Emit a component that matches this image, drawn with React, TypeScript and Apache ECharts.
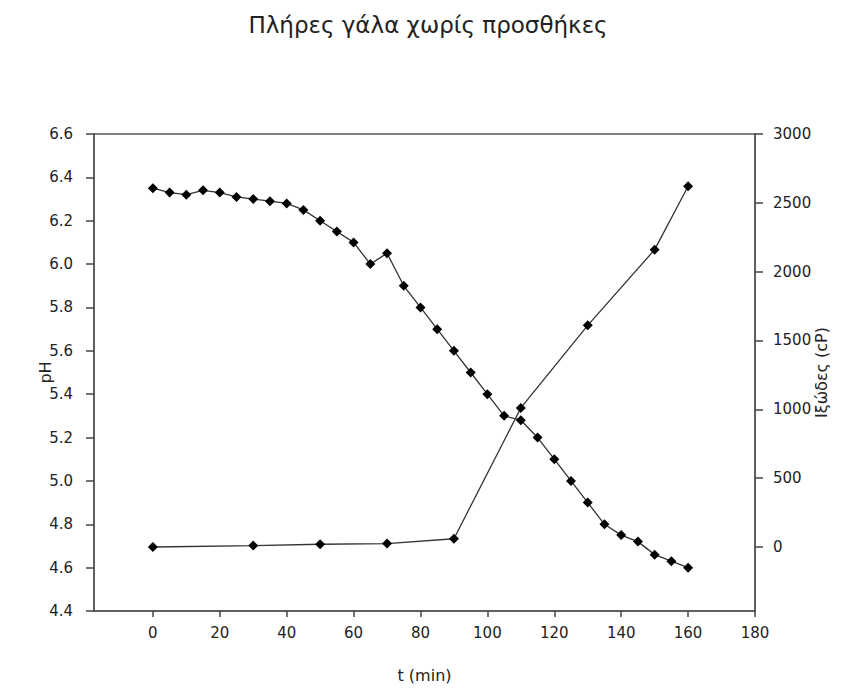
import React, { useEffect, useRef } from "react";
import * as echarts from "echarts";

const phTimes = [0, 5, 10, 15, 20, 25, 30, 35, 40, 45, 50, 55, 60, 65, 70, 75, 80, 85, 90, 95, 100, 105, 110, 115, 120, 125, 130, 135, 140, 145, 150, 155, 160];
const phValues = [6.35, 6.33, 6.32, 6.34, 6.33, 6.31, 6.30, 6.29, 6.28, 6.25, 6.20, 6.15, 6.10, 6.00, 6.05, 5.90, 5.80, 5.70, 5.60, 5.50, 5.40, 5.30, 5.28, 5.20, 5.10, 5.00, 4.90, 4.80, 4.75, 4.72, 4.66, 4.63, 4.60];
const viscTimes = [0, 30, 50, 70, 90, 110, 130, 150, 160];
const viscValues = [0, 10, 20, 25, 60, 1010, 1610, 2160, 2620];
const xTicks = [0, 20, 40, 60, 80, 100, 120, 140, 160, 180];
const phTicks = [4.4, 4.6, 4.8, 5.0, 5.2, 5.4, 5.6, 5.8, 6.0, 6.2, 6.4, 6.6];
const viscTicks = [0, 500, 1000, 1500, 2000, 2500, 3000];

export default function App() {
  const ref = useRef<HTMLDivElement>(null);
  useEffect(() => {
    if (!ref.current) return;
    const chart = echarts.init(ref.current, undefined, { renderer: "svg" });
    const font = "DejaVu Sans, Liberation Sans, Arial, sans-serif";
    const axisLine = { show: true, onZero: false, lineStyle: { color: "#555", width: 1.5 } };
    chart.setOption({
      animation: false,
      backgroundColor: "#fff",
      title: {
        text: "Πλήρες γάλα χωρίς προσθήκες",
        left: "center",
        top: 8,
        textStyle: { fontFamily: font, fontSize: 23, fontWeight: "normal", color: "#222" },
      },
      grid: {
        left: 94,
        right: 101,
        top: 134,
        bottom: 79,
        show: true,
        borderColor: "#555",
        borderWidth: 1.5,
        containLabel: false,
        outerBoundsMode: "none",
      },
      xAxis: {
        type: "value",
        min: -17.6,
        max: 180,
        name: "t (min)",
        nameLocation: "middle",
        nameGap: 56,
        nameMoveOverlap: false,
        nameTextStyle: { fontFamily: font, fontSize: 16, color: "#222" },
        axisLine,
        axisTick: { show: true, length: 6, customValues: xTicks, lineStyle: { color: "#444", width: 1.5 } },
        axisLabel: { customValues: xTicks, margin: 14, fontFamily: font, fontSize: 15, color: "#222" },
        splitLine: { show: false },
      },
      yAxis: [
        {
          type: "value",
          min: 4.4,
          max: 6.6,
          position: "left",
          name: "pH",
          nameLocation: "middle",
          nameGap: 41,
          nameRotate: 90,
          nameMoveOverlap: false,
          nameTextStyle: { fontFamily: font, fontSize: 16, color: "#222" },
          axisLine,
          axisTick: { show: true, length: 8, customValues: phTicks, lineStyle: { color: "#444", width: 1.5 } },
          axisLabel: {
            customValues: phTicks,
            margin: 21,
            fontFamily: font,
            fontSize: 15,
            color: "#222",
            formatter: (v: number) => v.toFixed(1),
          },
          splitLine: { show: false },
        },
        {
          type: "value",
          min: -465,
          max: 3000,
          position: "right",
          name: "Ιξώδες (cP)",
          nameLocation: "middle",
          nameGap: 58,
          nameRotate: 90,
          nameMoveOverlap: false,
          nameTextStyle: { fontFamily: font, fontSize: 16, color: "#222" },
          axisLine,
          axisTick: { show: true, length: 8, customValues: viscTicks, lineStyle: { color: "#444", width: 1.5 } },
          axisLabel: {
            customValues: viscTicks,
            margin: 18,
            fontFamily: font,
            fontSize: 15,
            color: "#222",
            formatter: (v: number) => String(Math.round(v)),
          },
          splitLine: { show: false },
        },
      ],
      series: [
        {
          type: "line",
          yAxisIndex: 0,
          data: phTimes.map((t, i) => [t, phValues[i]]),
          symbol: "diamond",
          symbolSize: 10,
          itemStyle: { color: "#000" },
          lineStyle: { color: "#333", width: 1.3 },
        },
        {
          type: "line",
          yAxisIndex: 1,
          data: viscTimes.map((t, i) => [t, viscValues[i]]),
          symbol: "diamond",
          symbolSize: 10,
          itemStyle: { color: "#000" },
          lineStyle: { color: "#333", width: 1.3 },
        },
      ],
    });
    return () => chart.dispose();
  }, []);
  return <div ref={ref} style={{ position: "absolute", left: 0, top: 0, width: 856, height: 690 }} />;
}
